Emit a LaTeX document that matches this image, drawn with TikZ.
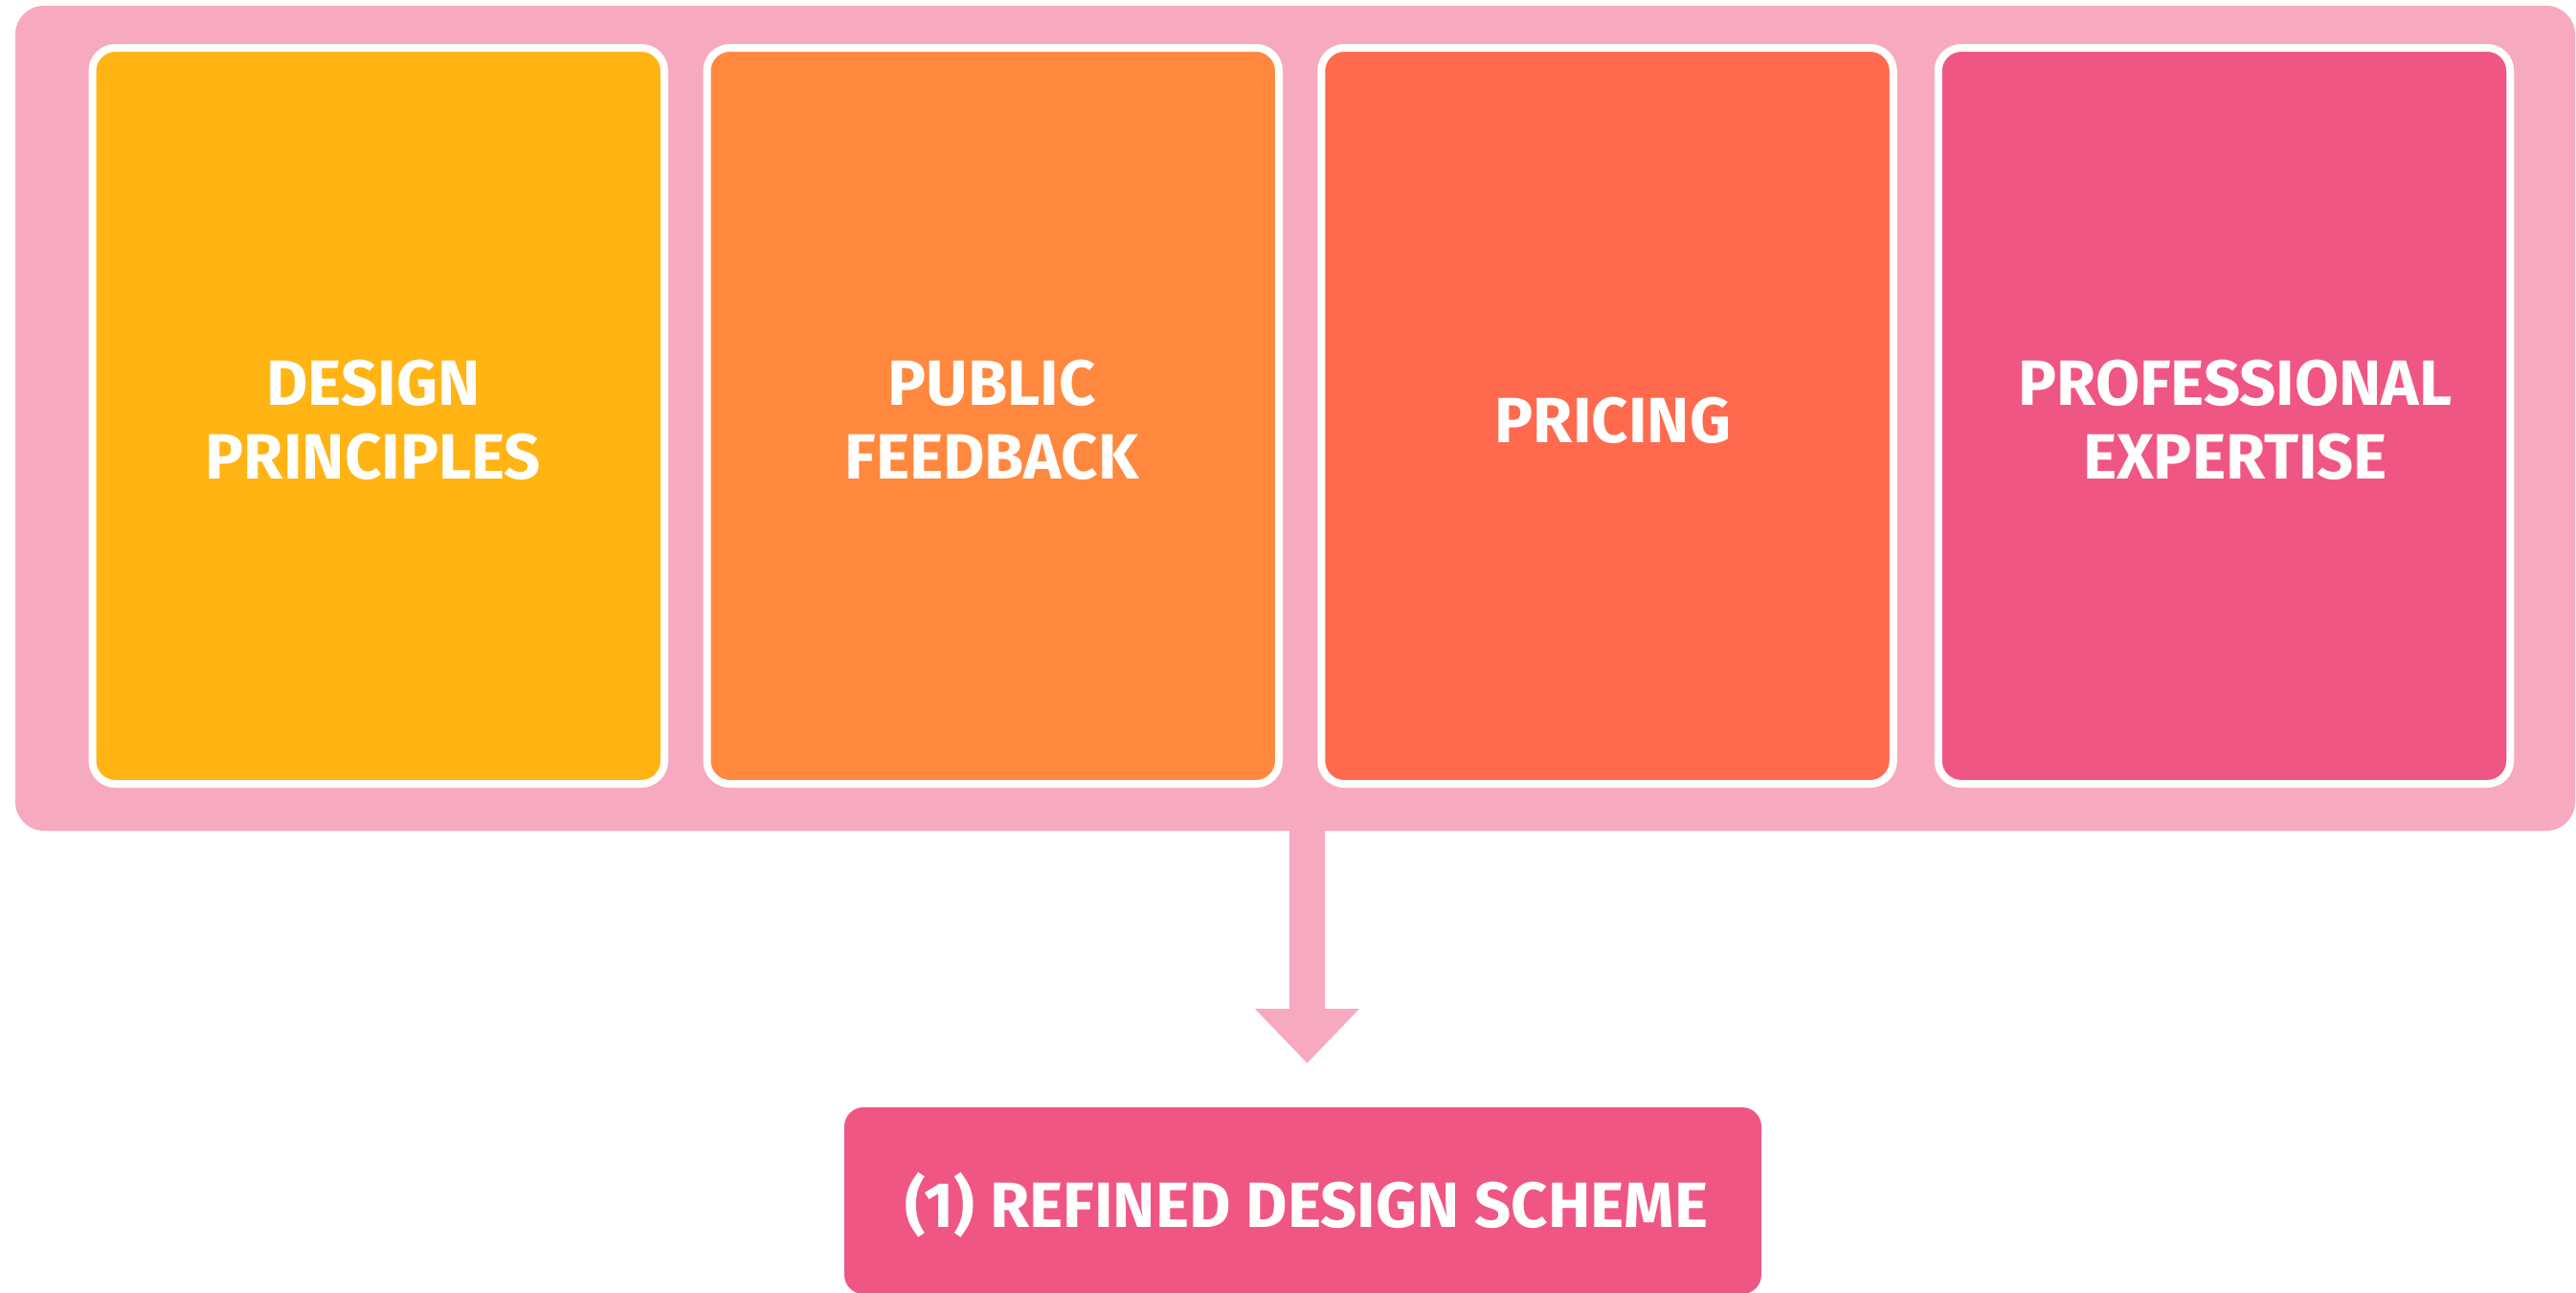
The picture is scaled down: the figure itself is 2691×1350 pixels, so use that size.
\documentclass[tikz,border=0pt]{standalone}
\usepackage{fontspec}
\setmainfont{Fira Sans}
\usetikzlibrary{arrows.meta}
\definecolor{pinkbg}{HTML}{F7A9BF}
\definecolor{cyel}{HTML}{FFB414}
\definecolor{corg}{HTML}{FF883E}
\definecolor{cred}{HTML}{FF6A4E}
\definecolor{cpink}{HTML}{F05683}
\begin{document}
\begin{tikzpicture}[x=1pt,y=-1pt,
  container/.style={fill=pinkbg, draw=none, rounded corners=30pt, inner sep=0pt, minimum width=2674pt, minimum height=862pt},
  card/.style={draw=white, line width=8pt, rounded corners=24pt, inner sep=0pt, minimum width=597.5pt, minimum height=769pt},
  cardtext/.style={text=white, font=\bfseries\fontsize{66.8}{77}\selectfont, align=center, inner sep=0pt},
  result/.style={fill=cpink, draw=none, rounded corners=20pt, minimum width=958pt, minimum height=195pt, inner sep=0pt},
  flow/.style={draw=pinkbg, line width=37pt, -{Triangle[width=105.5pt,length=57pt]}}
]
\useasboundingbox (0,0) rectangle (2691,1350);
\node[container] (outer) at (1353,437) {};
\node[card, fill=cyel] (c1) at (395.25,434.5) {};
\node[card, fill=corg] (c2) at (1037.25,434.5) {};
\node[card, fill=cred] (c3) at (1679,434.5) {};
\node[card, fill=cpink] (c4) at (2323.5,434.5) {};
\node[cardtext] (t1) at (390,439) {DESIGN\\PRINCIPLES};
\node[cardtext] (t2) at (1036,439) {PUBLIC\\FEEDBACK};
\node[cardtext] (t3) at (1685,439) {PRICING};
\node[cardtext] (t4) at (2335,439) {PROFESSIONAL\\EXPERTISE};
\node[result] (res) at (1361,1254.5) {};
\node[cardtext] (rt) at (1365,1259) {(1) REFINED DESIGN SCHEME};
\coordinate (tip) at (1365.5,1111);
\draw[flow] (outer.south -| tip) -- (tip);
\end{tikzpicture}
\end{document}
